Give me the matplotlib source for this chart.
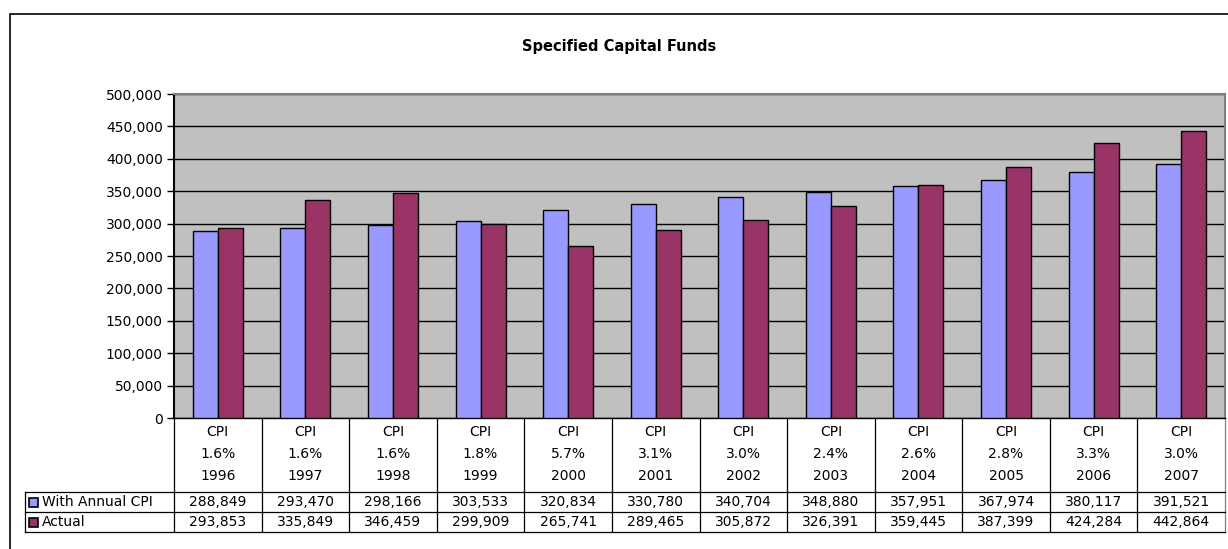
import matplotlib.pyplot as plt
import matplotlib.transforms as mtransforms
from matplotlib.patches import Rectangle
import numpy as np

years = ["1996", "1997", "1998", "1999", "2000", "2001",
         "2002", "2003", "2004", "2005", "2006", "2007"]
cpi_rates = ["1.6%", "1.6%", "1.6%", "1.8%", "5.7%", "3.1%",
             "3.0%", "2.4%", "2.6%", "2.8%", "3.3%", "3.0%"]
with_cpi = [288849, 293470, 298166, 303533, 320834, 330780,
            340704, 348880, 357951, 367974, 380117, 391521]
actual = [293853, 335849, 346459, 299909, 265741, 289465,
          305872, 326391, 359445, 387399, 424284, 442864]
series_names = ["With Annual CPI", "Actual"]
series_colors = ["#9999FF", "#993366"]

W, H = 1228, 549
fig = plt.figure(figsize=(W / 100, H / 100), dpi=100)
fig.patch.set_facecolor("white")

def fx(px):
    return px / W

def fy(py):
    return 1 - py / H

# outer chart border (right and bottom edges fall outside the image)
fig.add_artist(Rectangle((fx(10), fy(560)), fx(1240) - fx(10), fy(14) - fy(560),
                         transform=fig.transFigure, fill=False,
                         edgecolor="black", linewidth=1.2))

ax_l, ax_r, ax_t, ax_b = 174, 1225, 94, 418
ax = fig.add_axes([fx(ax_l), fy(ax_b), fx(ax_r) - fx(ax_l), fy(ax_t) - fy(ax_b)])
ax.set_facecolor("#C0C0C0")

n = len(years)
x = np.arange(n)
w = 1 / 3.5  # Excel gap width 150%
ax.bar(x - w / 2, with_cpi, w, color=series_colors[0], edgecolor="black", linewidth=1, zorder=3)
ax.bar(x + w / 2, actual, w, color=series_colors[1], edgecolor="black", linewidth=1, zorder=3)

ax.set_xlim(-0.5, n - 0.5)
ax.set_ylim(0, 500000)
ax.set_yticks(np.arange(0, 500001, 50000))
ax.set_yticklabels([f"{v:,}" for v in range(0, 500001, 50000)], fontsize=10)
ax.tick_params(axis="y", length=5, width=1, pad=3)
ax.set_xticks([])
ax.yaxis.grid(True, color="black", linewidth=1, zorder=1)
ax.set_axisbelow(True)
for s in ["top", "right"]:
    ax.spines[s].set_color("#808080")
    ax.spines[s].set_linewidth(1.5)
ax.spines["left"].set_color("black")
ax.spines["left"].set_linewidth(1.5)
ax.spines["bottom"].set_color("black")
ax.spines["bottom"].set_linewidth(1)

fig.text(fx(619), fy(46), "Specified Capital Funds", ha="center", va="center",
         fontsize=10.5, fontweight="bold")

# data table below the plot
trans = mtransforms.blended_transform_factory(ax.transData, fig.transFigure)
row_tops = [492, 512, 532]

for i in range(n + 1):
    ax.plot([i - 0.5, i - 0.5], [fy(418), fy(532)], transform=trans,
            color="#808080" if i == n else "black", linewidth=0.9, clip_on=False)
for py in row_tops:
    fig.add_artist(plt.Line2D([fx(25), fx(ax_r)], [fy(py), fy(py)],
                              transform=fig.transFigure, color="black", linewidth=0.9))
fig.add_artist(plt.Line2D([fx(25), fx(25)], [fy(492), fy(532)],
                          transform=fig.transFigure, color="black", linewidth=0.9))

for i in range(n):
    ax.text(i, fy(432), "CPI", transform=trans, ha="center", va="center", fontsize=10)
    ax.text(i, fy(454), cpi_rates[i], transform=trans, ha="center", va="center", fontsize=10)
    ax.text(i, fy(476), years[i], transform=trans, ha="center", va="center", fontsize=10)
    ax.text(i, fy(502), f"{with_cpi[i]:,}", transform=trans, ha="center", va="center", fontsize=10)
    ax.text(i, fy(522), f"{actual[i]:,}", transform=trans, ha="center", va="center", fontsize=10)

for k, (name, col) in enumerate(zip(series_names, series_colors)):
    cy = 502 + 20 * k
    fig.add_artist(Rectangle((fx(29), fy(cy + 4.5)), fx(9), fy(cy - 4.5) - fy(cy + 4.5),
                             transform=fig.transFigure, facecolor=col,
                             edgecolor="black", linewidth=1.2))
    fig.text(fx(42), fy(cy), name, ha="left", va="center", fontsize=10)

fig.savefig("out.png", dpi=100, facecolor="white")
